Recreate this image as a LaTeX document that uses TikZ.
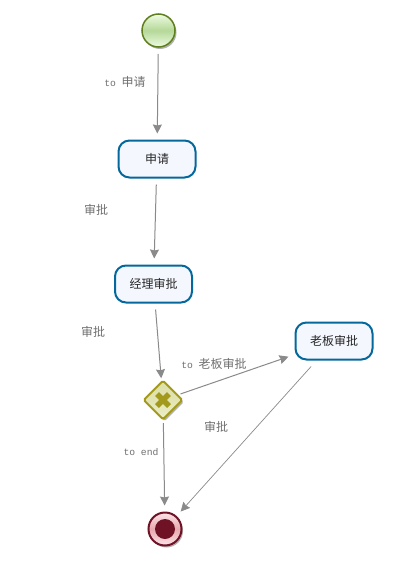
\documentclass[tikz,border=0pt]{standalone}
\usepackage{fontspec}
\setmonofont{Liberation Mono}
\newfontfamily\cjk{Noto Sans CJK SC}
\usepackage{xcolor}
\usetikzlibrary{shapes.geometric,shadows,arrows.meta}
\definecolor{flowgray}{HTML}{8A8A8A}
\definecolor{labelgray}{HTML}{707070}
\definecolor{taskblue}{HTML}{05689C}
\definecolor{taskfill}{HTML}{F5F7FF}
\definecolor{startgreen}{HTML}{5F7F1F}
\definecolor{startpale}{HTML}{EEFBE2}
\definecolor{startmid}{HTML}{B5D898}
\definecolor{gateolive}{HTML}{A39A1C}
\definecolor{gatepale}{HTML}{EDEFC8}
\definecolor{gatemid}{HTML}{DDE0A8}
\definecolor{endred}{HTML}{701226}
\definecolor{endpale}{HTML}{FBE4E6}
\definecolor{endmid}{HTML}{E8A8B0}
\tikzset{
  softshadow/.style={drop shadow={shadow xshift=1.5pt,shadow yshift=-2pt,opacity=0.3,fill=black}},
  task/.style={draw=taskblue,line width=2pt,fill=taskfill,rounded corners=11pt,minimum width=77pt,minimum height=37pt,inner sep=0pt,outer sep=7pt,font=\cjk\fontsize{12pt}{14pt}\selectfont,text=black!85},
  startevent/.style={circle,draw=startgreen,line width=1.5pt,top color=startpale,bottom color=startpale,middle color=startmid,minimum size=33pt,inner sep=0pt,outer sep=7pt,softshadow},
  endevent/.style={circle,draw=endred,line width=2pt,top color=endpale,bottom color=endpale,middle color=endmid,minimum size=33pt,inner sep=0pt,outer sep=7pt,softshadow},
  gateway/.style={diamond,draw=gateolive,line width=2pt,rounded corners=1.5pt,top color=gatemid,bottom color=gatepale,middle color=gatemid!70!gatepale,minimum size=41pt,inner sep=0pt,outer sep=3pt,softshadow},
  flow/.style={->,draw=flowgray,line width=1pt},
  flowlabel/.style={text=labelgray,font=\ttfamily\fontsize{9.7pt}{11pt}\selectfont,inner sep=0pt},
}
\begin{document}
\begin{tikzpicture}[x=1pt,y=-1pt,>={Stealth[length=9pt,width=9pt,inset=1pt]}]
  \useasboundingbox[fill=white] (0,0) rectangle (414,586);
  % events, tasks and the gateway
  \node[startevent] (start) at (158.5,30.5) {};
  \node[task] (apply) at (157,159) {申请};
  \node[task] (manager) at (153.5,284) {经理审批};
  \node[task] (boss) at (334,341) {老板审批};
  \node[gateway] (gate) at (163,400) {};
  \node[endevent] (finish) at (165,529) {};
  \node[circle,fill=endred,minimum size=20pt,inner sep=0pt] (finishdot) at (finish.center) {};
  \draw[gateolive,line width=5.5pt] ([shift={(-6,-6)}]gate.center) -- ([shift={(6,6)}]gate.center);
  \draw[gateolive,line width=5.5pt] ([shift={(-6,6)}]gate.center) -- ([shift={(6,-6)}]gate.center);
  % flows
  \draw[flow] (start) -- (apply);
  \draw[flow] (apply) -- (manager);
  \draw[flow] (manager) -- (gate);
  \draw[flow] (gate) -- (boss);
  \draw[flow] (gate) -- (finish);
  \draw[flow,line width=0.7pt] (boss) -- (finish);
  % labels
  \node[flowlabel] (lbstart) at (125,82) {to {\cjk\fontsize{12pt}{14pt}\selectfont 申请}};
  \node[flowlabel] (lbapply) at (96,210) {\cjk\fontsize{12pt}{14pt}\selectfont 审批};
  \node[flowlabel] (lbmanager) at (93,332) {\cjk\fontsize{12pt}{14pt}\selectfont 审批};
  \node[flowlabel] (lbboss) at (214,364) {to {\cjk\fontsize{12pt}{14pt}\selectfont 老板审批}};
  \node[flowlabel] (lbback) at (216,427) {\cjk\fontsize{12pt}{14pt}\selectfont 审批};
  \node[flowlabel] (lbend) at (141,452) {to end};
\end{tikzpicture}
\end{document}
